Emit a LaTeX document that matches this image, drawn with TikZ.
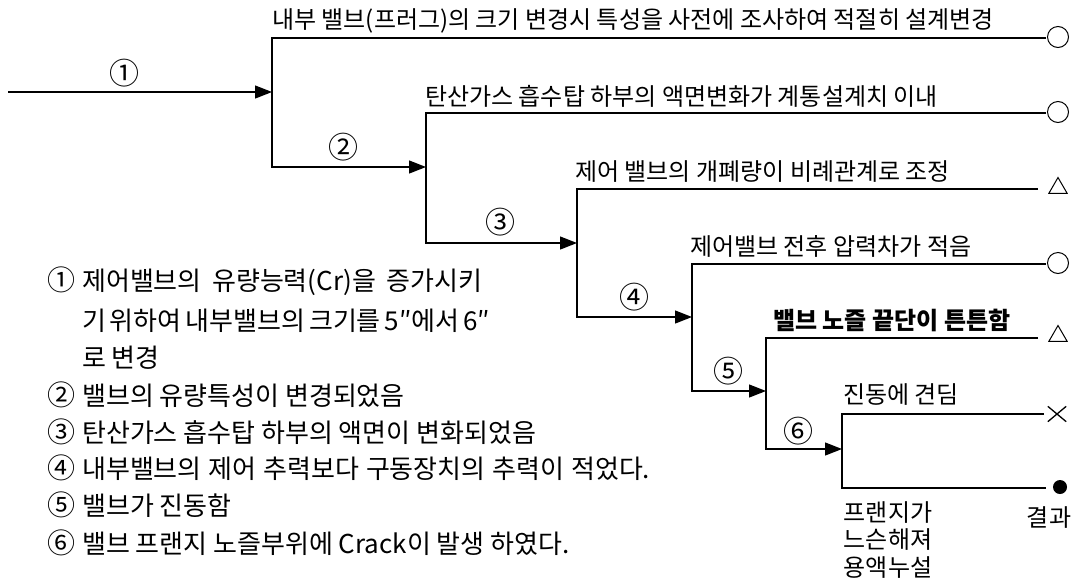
\documentclass[tikz,border=0pt]{standalone}
\usepackage{fontspec}
\setmainfont{Noto Sans CJK KR}
\usetikzlibrary{arrows.meta,shapes.geometric,shapes.misc}
\begin{document}
\begin{tikzpicture}[x=1pt,y=-1pt,
  ln/.style={line width=1.3pt,line join=miter},
  arr/.style={ln,-{Triangle[length=17pt,width=13pt]}},
  lbl/.style={anchor=west,inner sep=0pt,font=\fontsize{24}{28}\selectfont},
  num/.style={inner sep=0pt,font=\fontsize{30}{34}\selectfont},
  txt/.style={inner sep=0pt,font=\fontsize{24}{27.5}\selectfont},
  item/.style={anchor=west,inner sep=0pt,font=\fontsize{26}{30}\selectfont},
  opn/.style={draw,circle,line width=1pt,minimum size=21pt,inner sep=0pt},
  tri/.style={draw,regular polygon,regular polygon sides=3,line width=1pt,minimum size=21pt,inner sep=0pt},
  crs/.style={draw,cross out,line width=1.3pt,minimum width=17pt,minimum height=14pt,inner sep=0pt},
  dot/.style={fill,circle,minimum size=14pt,inner sep=0pt}
]
\useasboundingbox (0,0) rectangle (1085,582);
\newcommand{\inum}[1]{\makebox[35pt][l]{\fontsize{28}{30}\selectfont #1}}

% junction coordinates
\coordinate (s)  at (8,92);
\coordinate (j1) at (272,92);
\coordinate (a1) at (272,38);  \coordinate (b1) at (272,167);
\coordinate (j2) at (426,167);
\coordinate (a2) at (426,113); \coordinate (b2) at (426,243);
\coordinate (j3) at (577,243);
\coordinate (a3) at (577,189); \coordinate (b3) at (577,317);
\coordinate (j4) at (692,317);
\coordinate (a4) at (692,264); \coordinate (b4) at (692,391);
\coordinate (j5) at (766,391);
\coordinate (a5) at (766,338); \coordinate (b5) at (766,449);
\coordinate (j6) at (842,449);
\coordinate (a6) at (842,414); \coordinate (b6) at (842,488);
% line ends
\coordinate (e1) at (1046,38);
\coordinate (e2) at (1046,113);
\coordinate (e3) at (1038,189);
\coordinate (e4) at (1046,264);
\coordinate (e5) at (1038,338);
\coordinate (e6) at (1044,414);
\coordinate (e7) at (1046,488);

% result symbols
\node[opn] (r1) at (1058,37) {};
\node[opn] (r2) at (1058,112) {};
\node[tri] (r3) at (1058,188) {};
\node[opn] (r4) at (1058,263) {};
\node[tri] (r5) at (1058,336) {};
\node[crs] (r6) at (1057,414) {};
\node[dot] (r7) at (1060,487) {};
\node[txt] (res) at (1049,518) {결과};

% connectors
\draw[arr] (s) -- (j1);
\draw[arr] (e1) -- (a1) -- (b1) -- (j2);
\draw[arr] (e2) -- (a2) -- (b2) -- (j3);
\draw[arr] (e3) -- (a3) -- (b3) -- (j4);
\draw[arr] (e4) -- (a4) -- (b4) -- (j5);
\draw[arr] (e5) -- (a5) -- (b5) -- (j6);
\draw[ln] (e6) -- (a6) -- (b6) -- (e7);

% branch numbers
\node[num] (n1) at (124,73) {①};
\node[num] (n2) at (343,147) {②};
\node[num] (n3) at (500,222) {③};
\node[num] (n4) at (634,297) {④};
\node[num] (n5) at (728,371) {⑤};
\node[num] (n6) at (798,431) {⑥};

% branch texts
\node[lbl] (t1) at (272,21) {내부 밸브(프러그)의 크기 변경시 특성을 사전에 조사하여 적절히 설계변경};
\node[lbl] (t2) at (425,96) {탄산가스 흡수탑 하부의 액면변화가 계통설계치 이내};
\node[lbl] (t3) at (575,172) {제어 밸브의 개폐량이 비례관계로 조정};
\node[lbl] (t4) at (690,246) {제어밸브 전후 압력차가 적음};
\node[lbl,font=\fontsize{24}{28}\selectfont\bfseries] (t5) at (773,320) {밸브 노즐 끝단이 튼튼함};
\node[lbl] (t6) at (843,395) {진동에 견딤};
\node[txt,align=center] (t7) at (888,540) {프랜지가\\느슨해져\\용액누설};

% legend list
\node[item] (l1) at (47,281) {\inum{①}\makebox[400pt][s]{제어밸브의 유량능력(Cr)을 증가시키}};
\node[item] (l1b) at (82,321) {\makebox[401pt][s]{기 위하여 내부밸브의 크기를 5″에서 6″}};
\node[item] (l1c) at (82,358) {로 변경};
\node[item] (l2) at (47,395) {\inum{②}밸브의 유량특성이 변경되었음};
\node[item] (l3) at (47,432) {\inum{③}탄산가스 흡수탑 하부의 액면이 변화되었음};
\node[item] (l4) at (47,468) {\inum{④}\makebox[568pt][s]{내부밸브의 제어 추력보다 구동장치의 추력이 적었다.}};
\node[item] (l5) at (47,505) {\inum{⑤}밸브가 진동함};
\node[item] (l6) at (47,543) {\inum{⑥}밸브 프랜지 노즐부위에 Crack이 발생 하였다.};
\end{tikzpicture}
\end{document}
